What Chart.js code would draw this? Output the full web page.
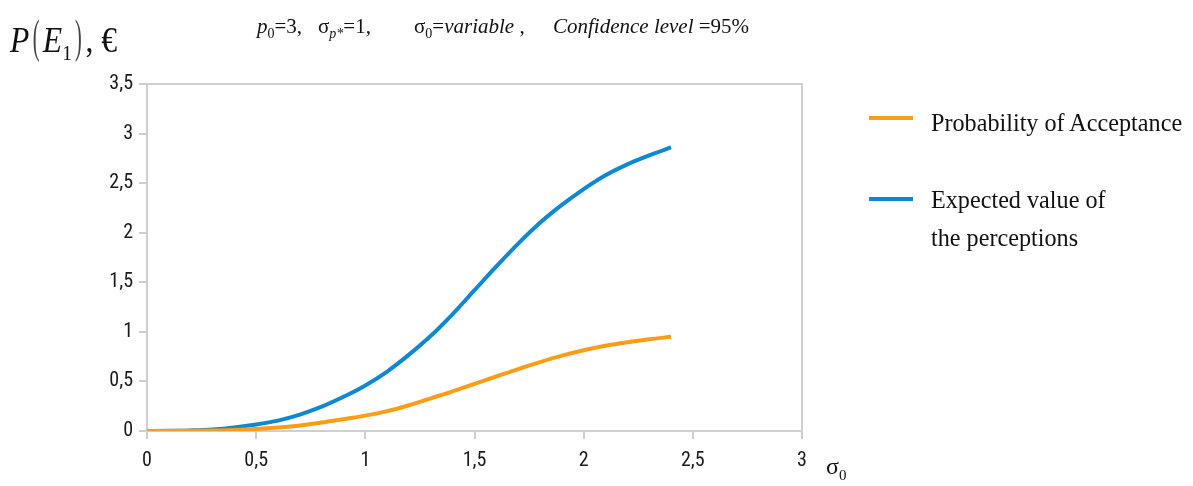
<!DOCTYPE html>
<html>
<head>
<meta charset="utf-8">
<script src="https://cdn.jsdelivr.net/npm/chart.js@4.4.1/dist/chart.umd.min.js"></script>
<style>
  html,body{margin:0;padding:0;background:#fff;}
  #wrap{position:relative;width:1193px;height:486px;overflow:hidden;}
  canvas{position:absolute;left:0;top:0;}
  .serif{font-family:"Liberation Serif","DejaVu Serif",serif;color:#111;position:absolute;white-space:nowrap;}
  #ylab{left:10px;top:10px;font-size:36px;font-style:italic;transform:scaleX(0.88);transform-origin:left top;}
  #ylab .par{font-style:normal;font-weight:100;font-size:46px;color:#444;transform:scaleX(0.5);display:inline-block;}
  .sub{top:14px;font-size:21px;}
  .sub sub{font-size:14px;}
  #xlab{left:826px;top:453px;font-size:24px;}
  #xlab sub{font-size:15px;}
  .leg{position:absolute;font-family:"Liberation Serif","DejaVu Serif",serif;font-size:26px;color:#111;line-height:38px;transform:scaleX(0.93);transform-origin:left top;white-space:nowrap;}
  .sw{position:absolute;width:44px;height:4px;}
</style>
</head>
<body>
<div id="wrap">
<canvas id="c" width="1193" height="486"></canvas>
<div class="serif" id="ylab">P<span class="par">(</span>E<sub style="font-size:22px;font-style:normal">1</sub><span class="par">)</span><span style="font-style:normal">, €</span></div>
<div class="serif sub" style="left:257px"><i>p</i><sub>0</sub>=3,</div>
<div class="serif sub" style="left:318px">σ<sub><i>p*</i></sub>=1,</div>
<div class="serif sub" style="left:414px">σ<sub>0</sub>=<i>variable</i> ,</div>
<div class="serif sub" style="left:553px"><i>Confidence level</i> =95%</div>
<div class="serif" id="xlab">σ<sub>0</sub></div>
<div class="sw" style="left:869px;top:116px;background:#ff9c16"></div>
<div class="leg" style="left:931px;top:104px;">Probability of Acceptance</div>
<div class="sw" style="left:869px;top:197px;background:#0e88d2"></div>
<div class="leg" style="left:931px;top:181px;">Expected value of<br>the perceptions</div>
</div>
<script>
const sigma = [0,0.1,0.2,0.3,0.4,0.5,0.6,0.7,0.8,0.9,1.0,1.1,1.2,1.3,1.4,1.5,1.6,1.7,1.8,1.9,2.0,2.1,2.2,2.3,2.4];
const probAcceptance = [0,0,0.002,0.005,0.01,0.02,0.035,0.055,0.085,0.12,0.155,0.20,0.26,0.33,0.40,0.475,0.55,0.625,0.695,0.76,0.815,0.86,0.895,0.925,0.95];
const expectedValue = [0,0.002,0.006,0.015,0.035,0.065,0.105,0.165,0.245,0.345,0.46,0.60,0.77,0.96,1.18,1.42,1.66,1.89,2.10,2.28,2.44,2.58,2.69,2.78,2.86];
const xTickLabels = {0:'0',0.5:'0,5',1:'1',1.5:'1,5',2:'2',2.5:'2,5',3:'3'};
const yTickLabels = {0:'0',0.5:'0,5',1:'1',1.5:'1,5',2:'2',2.5:'2,5',3:'3',3.5:'3,5'};

const toPts = arr => sigma.map((s,i)=>({x:s,y:arr[i]}));

const boxPlugin = {
  id:'box',
  afterDraw(chart){
    const {ctx, chartArea:a} = chart;
    ctx.save();
    ctx.strokeStyle = '#cfcfcf';
    ctx.lineWidth = 2;
    ctx.beginPath();
    ctx.moveTo(a.left, a.top); ctx.lineTo(a.right, a.top); ctx.lineTo(a.right, a.bottom);
    ctx.stroke();
    ctx.restore();
  }
};

const tickFont = {family:'"Liberation Sans Narrow","Roboto Condensed","Liberation Sans",sans-serif', size:20};

new Chart(document.getElementById('c'), {
  type:'line',
  data:{datasets:[
    {label:'Probability of Acceptance', data:toPts(probAcceptance), borderColor:'#ff9c16', borderWidth:4, pointRadius:0, cubicInterpolationMode:'monotone', fill:false},
    {label:'Expected value of the perceptions', data:toPts(expectedValue), borderColor:'#0e88d2', borderWidth:4, pointRadius:0, cubicInterpolationMode:'monotone', fill:false}
  ]},
  options:{
    responsive:false, animation:false,
    layout:{padding:{left:0, right:391, top:84, bottom:0}},
    plugins:{legend:{display:false}, tooltip:{enabled:false}},
    scales:{
      x:{type:'linear', min:0, max:3,
        afterFit(s){ s.height = 55; },
        ticks:{stepSize:0.5, color:'#1a1a1a', font:tickFont, padding:10, maxRotation:0, callback:v=>xTickLabels[v] ?? ''},
        grid:{drawOnChartArea:false, color:'#cfcfcf', tickLength:8, lineWidth:2},
        border:{color:'#cfcfcf', width:2}
      },
      y:{type:'linear', min:0, max:3.5,
        afterFit(s){ s.width = 147; },
        ticks:{stepSize:0.5, color:'#1a1a1a', font:tickFont, padding:6, callback:v=>yTickLabels[v] ?? ''},
        grid:{drawOnChartArea:false, color:'#cfcfcf', tickLength:8, lineWidth:2},
        border:{color:'#cfcfcf', width:2}
      }
    }
  },
  plugins:[boxPlugin]
});
</script>
</body>
</html>
